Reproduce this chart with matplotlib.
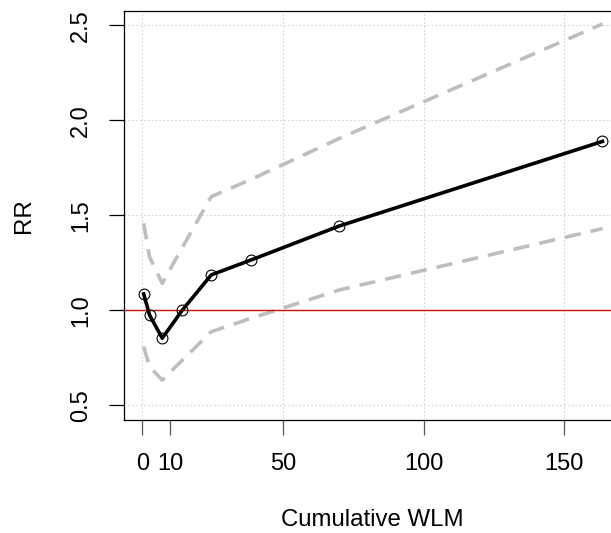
import numpy as np
import matplotlib
matplotlib.use('Agg')
import matplotlib.pyplot as plt

plt.rcParams['font.family'] = ['Liberation Sans', 'DejaVu Sans']

# Estimated relative risk by cumulative WLM
wlm = [0.5, 2.6, 7.1, 14.2, 24.5, 38.7, 70.1, 163.6]
rr = [1.086, 0.975, 0.853, 1.0, 1.186, 1.265, 1.444, 1.889]
rr_upper = [1.458, 1.28, 1.142, 1.33, 1.598, 1.689, 1.905, 2.507]
rr_lower = [0.809, 0.703, 0.633, 0.737, 0.887, 0.958, 1.107, 1.43]

x_ticks = [0, 10, 50, 100, 150]
x_grid = [0, 50, 100, 150]
y_ticks = [0.5, 1.0, 1.5, 2.0, 2.5]

fig = plt.figure(figsize=(6.11, 5.33), dpi=100)
ax = fig.add_axes([0.2029, 0.212, 0.8131, 0.768])

# dotted grid like R's grid()
for gx in x_grid:
    ax.axvline(gx, color='#d3d3d3', lw=0.8, ls=(0, (1.5, 2)), zorder=0)
for gy in y_ticks:
    ax.axhline(gy, color='#d3d3d3', lw=0.8, ls=(0, (1.5, 2)), zorder=0)

# confidence bands
ax.plot(wlm, rr_upper, color='#bebebe', lw=2.6, ls=(0, (4.5, 2.8)), zorder=1)
ax.plot(wlm, rr_lower, color='#bebebe', lw=2.6, ls=(0, (4.5, 2.8)), zorder=1)

ax.axhline(1.0, color='#cc1111', lw=1.0, zorder=2)

ax.plot(wlm, rr, color='black', lw=2.6, zorder=3)
ax.plot(wlm, rr, ls='none', marker='o', ms=7.8, mfc='none', mec='black', mew=0.8, zorder=4)

ax.set_xlim(-6.5, 170.1)
ax.set_ylim(0.4226, 2.577)

ax.set_xticks(x_ticks)
ax.set_xticklabels([str(t) for t in x_ticks])
ax.set_yticks(y_ticks)
ax.set_yticklabels(['0.5', '1.0', '1.5', '2.0', '2.5'], rotation=90, va='center')

ax.tick_params(axis='both', direction='out', length=11, width=0.9, labelsize=17)
ax.tick_params(axis='x', color='#555555', pad=13)
ax.tick_params(axis='y', pad=12)

for s in ['left', 'bottom', 'top', 'right']:
    ax.spines[s].set_linewidth(0.9)

ax.set_xlabel('Cumulative WLM', fontsize=17.3, labelpad=24)
ax.set_ylabel('RR', fontsize=17.3, labelpad=25)

fig.savefig('out.png', dpi=100)
